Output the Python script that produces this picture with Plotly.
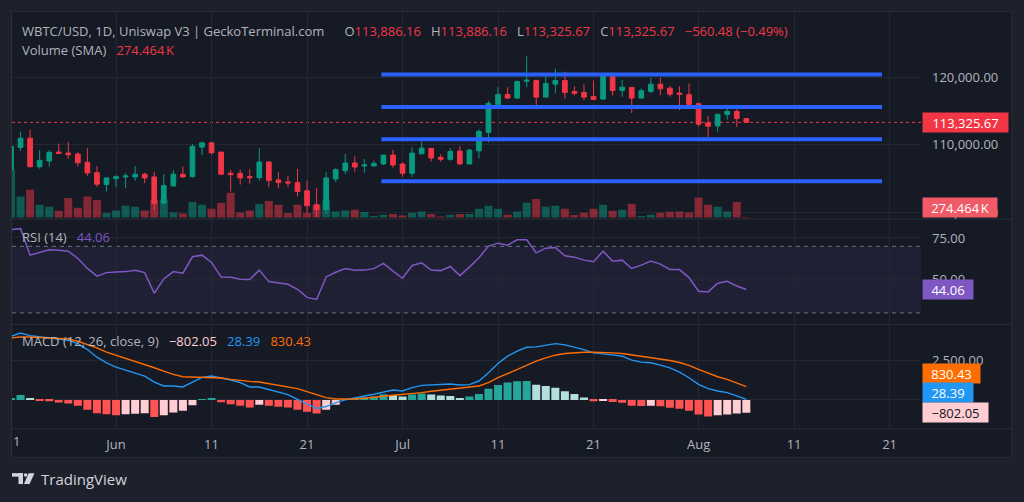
import pandas as pd
import plotly.graph_objects as go

# ---------------- data ----------------
START_DATE = "2025-05-21"
OPEN = [106300, 109620, 110990, 106770, 107608, 108931, 108784, 108637, 107417, 105888,
        104124, 105006, 105256, 105256, 105653, 105256, 101390, 103933, 105653, 105300,
        109666, 110298, 108931, 105800, 105800, 105300, 105153, 107461, 104815, 104521,
        104418, 103198, 101140, 100449, 104962, 106182, 107314, 106873, 106873, 107167,
        108490, 107167, 105800, 108681, 109475, 108152, 107858, 109078, 107167, 109122,
        111827, 115943, 117457, 116913, 119412, 119515, 117060, 118971, 119515, 117898,
        117751, 117163, 116766, 120059, 118045, 118486, 116913, 117898, 118971, 118383,
        117648, 117413, 116090, 113238, 112797, 114473, 114958, 113886.16]
HIGH = [109900, 111970, 112270, 109225, 109225, 110210, 110445, 108918, 109519, 106873,
        105182, 105506, 105800, 106873, 105888, 106035, 105697, 106241, 106770, 110107,
        110445, 110401, 109000, 106285, 106329, 106388, 109519, 107608, 105947, 105403,
        106432, 104712, 103595, 105947, 106535, 108637, 108299, 107902, 107652, 108534,
        109269, 107417, 109622, 110445, 109563, 108637, 109519, 109813, 109372, 112312,
        116472, 118530, 118530, 119515, 123087, 119662, 120353, 121279, 120838, 118677,
        118971, 119515, 120147, 120147, 119618, 118530, 118339, 119912, 119912, 118736,
        118677, 119074, 116237, 114267, 114560, 115840, 115252, 113886.16]
LOW = [106100, 109120, 106700, 106476, 106770, 108637, 107946, 106770, 105447, 103742,
       103095, 103742, 103595, 104712, 104330, 100302, 101140, 103830, 105153, 105153,
       108490, 108534, 105590, 103095, 104124, 104271, 104712, 103742, 103595, 103742,
       102360, 99920, 99300, 99773, 104521, 105697, 106035, 105888, 106829, 107020,
       106623, 105300, 105256, 108637, 107564, 107505, 107652, 107150, 107150, 108005,
       110357, 115502, 116825, 116825, 118530, 115649, 117000, 117604, 116869, 117310,
       116619, 116650, 116722, 117310, 117119, 114708, 116850, 117648, 117354, 117119,
       115149, 115950, 112709, 111136, 111974, 113738, 112650, 113325.67]
CLOSE = [109770, 110990, 106770, 107711, 108887, 108740, 108534, 107358, 105844, 104183,
         105109, 105300, 105403, 105653, 105109, 101287, 103977, 105653, 105256, 109769,
         110298, 108828, 105653, 105594, 105109, 105153, 107461, 104712, 104418, 104374,
         103095, 100993, 100405, 105109, 106329, 107314, 106726, 107020, 107270, 108490,
         107020, 105800, 108784, 109519, 108049, 107858, 109034, 107167, 109225, 111974,
         116134, 117457, 116913, 119368, 119559, 117060, 119074, 119515, 117751, 117604,
         117060, 116722, 120103, 118045, 118530, 116913, 118001, 118971, 118295, 117501,
         117501, 115987, 113047, 112753, 114517, 114958, 113886.15, 113325.67]
VOLUME_K = [1650, 724, 952, 442, 374, 238, 670, 340, 724, 602,
            160, 248, 408, 374, 248, 595, 622, 180, 146, 534,
            442, 306, 503, 850, 180, 248, 469, 568, 442, 160,
            442, 160, 442, 588, 214, 248, 272, 194, 58, 102,
            126, 78, 170, 214, 126, 44, 102, 126, 126, 306,
            408, 306, 102, 214, 510, 636, 374, 408, 306, 92,
            170, 306, 442, 238, 272, 476, 58, 102, 170, 204,
            214, 180, 690, 442, 374, 214, 534, 24]
VOL_SMA_K = 274.464
RSI = [80.0, 80.6, 64.7, 66.1, 67.9, 67.7, 67.1, 62.7, 56.7, 52.1,
       54.2, 54.5, 54.8, 55.6, 54.2, 41.8, 50.4, 54.8, 53.9, 63.7,
       64.7, 60.3, 51.6, 51.4, 50.2, 50.0, 55.7, 48.8, 47.8, 47.2,
       44.2, 39.3, 38.1, 51.6, 54.4, 56.6, 55.6, 55.7, 56.6, 59.7,
       55.1, 50.8, 58.5, 60.1, 55.7, 55.4, 57.9, 52.4, 57.5, 63.1,
       70.1, 71.9, 70.7, 73.9, 73.9, 66.1, 68.9, 69.3, 64.3, 63.5,
       61.7, 60.7, 67.1, 61.1, 61.7, 56.7, 58.7, 61.1, 59.3, 56.1,
       56.0, 51.2, 43.0, 42.6, 47.8, 49.0, 46.2, 44.06]
MACD = [4000, 4206, 4040, 3956, 3894, 3831, 3748, 3540, 3165, 2686,
        2331, 2061, 1873, 1665, 1498, 1123, 873, 873, 811, 1123,
        1415, 1498, 1394, 1248, 1082, 811, 811, 665, 498, 332,
        40, -272, -543, -418, -168, -2, 144, 248, 353, 498,
        623, 561, 769, 915, 936, 957, 998, 936, 957, 1186,
        1707, 2290, 2748, 3060, 3310, 3331, 3435, 3540, 3456, 3310,
        3165, 2956, 2915, 2831, 2748, 2498, 2373, 2331, 2186, 2019,
        1748, 1394, 977, 707, 561, 457, 248, 28.39]
SIGNAL = [3894, 3956, 3956, 3935, 3915, 3873, 3831, 3685, 3477, 3269,
          2998, 2810, 2623, 2435, 2227, 2019, 1811, 1602, 1457, 1436,
          1415, 1415, 1373, 1290, 1207, 1165, 1123, 1019, 936, 832,
          707, 519, 311, 144, 61, 40, 61, 102, 186, 228,
          290, 332, 394, 457, 540, 602, 665, 707, 769, 873,
          1082, 1394, 1650, 1915, 2165, 2435, 2644, 2810, 2915, 2977,
          2998, 2998, 2998, 2956, 2915, 2831, 2748, 2665, 2581, 2477,
          2352, 2165, 1915, 1665, 1456, 1290, 1082, 830.43]
HIST = [104, 312, 62, -62, -83, -167, -229, -375, -625, -833,
        -896, -958, -896, -875, -833, -1083, -958, -792, -687, -333,
        20, 83, -146, -271, -375, -479, -312, -375, -437, -479,
        -625, -750, -854, -625, -312, 20, 104, 167, 208, 354,
        312, 208, 333, 396, 333, 271, 250, 125, 208, 375,
        708, 937, 1100, 1180, 1190, 958, 875, 771, 542, 375,
        146, -83, -42, -125, -187, -375, -380, -370, -396, -500,
        -562, -687, -917, -1042, -958, -917, -854, -802.05]

LEVELS = [120400, 115590, 110840, 104620]
LEVEL_START = "2025-06-28 19:00"
LEVEL_END = "2025-08-20 05:00"

TICK_DATES = ["2025-06-01", "2025-06-11", "2025-06-21", "2025-07-01", "2025-07-11",
              "2025-07-21", "2025-08-01", "2025-08-11", "2025-08-21"]
TICK_TEXT = ["Jun", "11", "21", "Jul", "11", "21", "Aug", "11", "21"]
PRICE_TICKS = [100000, 110000, 120000]
RSI_TICKS = [50, 75]
RSI_LINES = [30, 50, 70]
MACD_TICKS = [2500]

# ---------------- styling ----------------
W, H = 1024, 502
OUTER = "#1e212b"
INNER = "#161a25"
GRID = "#232733"
SEP = "#2a2e39"
TXT = "#b2b5be"
UP = "#089981"
DOWN = "#f23645"
FONT = "Open Sans"


def px(x):
    return x / W


def py(y):
    return 1 - y / H


def fmt(v, spec=",.2f"):
    return format(v, spec).replace("-", "\u2212")


dates = pd.date_range(START_DATE, periods=len(CLOSE), freq="D")
X_RANGE = ["2025-05-21 02:30", "2025-08-24 07:00"]

vol_colors = ["rgba(8,153,129,0.5)" if c >= o else "rgba(242,54,69,0.5)"
              for o, c in zip(OPEN, CLOSE)]
hist_colors = []
for i, v in enumerate(HIST):
    prev = HIST[i - 1] if i > 0 else v
    if v >= 0:
        hist_colors.append("#26a69a" if v >= prev else "#b2dfdb")
    else:
        hist_colors.append("#ff5252" if v <= prev else "#ffcdd2")

fig = go.Figure()
fig.add_trace(go.Bar(x=dates, y=VOLUME_K, marker=dict(color=vol_colors, line=dict(width=0)),
                     xaxis="x", yaxis="y", hoverinfo="skip"))
fig.add_trace(go.Candlestick(x=dates, open=OPEN, high=HIGH, low=LOW, close=CLOSE,
                             xaxis="x", yaxis="y2", whiskerwidth=0,
                             increasing=dict(line=dict(color=UP, width=1), fillcolor=UP),
                             decreasing=dict(line=dict(color=DOWN, width=1), fillcolor=DOWN),
                             hoverinfo="skip"))
fig.add_trace(go.Scatter(x=dates, y=RSI, mode="lines", line=dict(color="#7e57c2", width=1.5),
                         xaxis="x2", yaxis="y3", hoverinfo="skip"))
fig.add_trace(go.Bar(x=dates, y=HIST, marker=dict(color=hist_colors, line=dict(width=0)),
                     xaxis="x3", yaxis="y4", hoverinfo="skip"))
fig.add_trace(go.Scatter(x=dates, y=MACD, mode="lines", line=dict(color="#2196f3", width=1.4),
                         xaxis="x3", yaxis="y4", hoverinfo="skip"))
fig.add_trace(go.Scatter(x=dates, y=SIGNAL, mode="lines", line=dict(color="#ff6d00", width=1.4),
                         xaxis="x3", yaxis="y4", hoverinfo="skip"))

xcommon = dict(domain=[px(12), px(921)], range=X_RANGE, type="date", tickvals=TICK_DATES,
               showgrid=True, gridcolor=GRID, gridwidth=1, zeroline=False, showline=False,
               ticks="", fixedrange=True)
ycommon = dict(side="right", showgrid=True, gridcolor=GRID, zeroline=False, showline=False,
               ticks="", ticklabelstandoff=10, tickfont=dict(family=FONT, size=13, color=TXT),
               fixedrange=True)

fig.update_layout(
    width=W, height=H, margin=dict(l=0, r=0, t=0, b=0),
    paper_bgcolor=OUTER, plot_bgcolor=INNER, showlegend=False, hovermode=False,
    bargap=0.16, boxgap=0.3,
    font=dict(family=FONT, size=13, color=TXT),
    xaxis=dict(**xcommon, anchor="y", showticklabels=False, rangeslider=dict(visible=False)),
    xaxis2=dict(**xcommon, anchor="y3", matches="x", showticklabels=False),
    xaxis3=dict(**xcommon, anchor="y4", matches="x", showticklabels=True, ticktext=TICK_TEXT,
                tickfont=dict(family=FONT, size=13, color=TXT), ticklabelstandoff=7),
    yaxis=dict(domain=[py(219), py(12)], range=[0, 7038], visible=False, anchor="x",
               fixedrange=True),
    yaxis2=dict(**ycommon, overlaying="y", anchor="x", range=[99229, 129658],
                tickvals=PRICE_TICKS, tickformat=",.2f"),
    yaxis3=dict(**ycommon, domain=[py(325), py(221)], anchor="x2", range=[23.9, 86.0],
                tickvals=RSI_TICKS, tickformat=".2f"),
    yaxis4=dict(**{**ycommon, "zeroline": True}, zerolinecolor=GRID, zerolinewidth=1,
                domain=[py(431), py(327)], anchor="x3", range=[-1794, 4706],
                tickvals=MACD_TICKS, tickformat=",.2f"),
)

shapes = []
# chart frame
shapes.append(dict(type="rect", xref="paper", yref="paper", x0=px(11.5), x1=px(1012),
                   y0=py(460), y1=py(11.5), fillcolor=INNER, line=dict(color=SEP, width=1),
                   layer="below"))
for ysep in (220.5, 326.5, 431.5):
    shapes.append(dict(type="line", xref="paper", yref="paper", x0=px(12), x1=px(1012),
                       y0=py(ysep), y1=py(ysep), line=dict(color=SEP, width=1), layer="below"))
# last price dotted line
shapes.append(dict(type="line", xref="x domain", yref="y2", x0=0, x1=1, y0=CLOSE[-1],
                   y1=CLOSE[-1], line=dict(color=DOWN, width=1, dash="dot"), layer="below"))
# horizontal level lines
for lv in LEVELS:
    shapes.append(dict(type="line", xref="x", yref="y2", x0=LEVEL_START, x1=LEVEL_END,
                       y0=lv, y1=lv, line=dict(color="#2962ff", width=4), layer="above"))
# RSI band and levels
shapes.append(dict(type="rect", xref="x2 domain", yref="y3", x0=0, x1=1, y0=RSI_LINES[0],
                   y1=RSI_LINES[-1], fillcolor="rgba(126,87,194,0.1)", line=dict(width=0),
                   layer="below"))
for lv in RSI_LINES:
    shapes.append(dict(type="line", xref="x2 domain", yref="y3", x0=0, x1=1, y0=lv, y1=lv,
                       line=dict(color="rgba(120,123,134,0.9)", width=1, dash="4px,4px"),
                       layer="below"))
# TradingView logo
LOGO = "#d1d4dc"
shapes += [
    dict(type="rect", xref="paper", yref="paper", x0=px(12), x1=px(23), y0=py(479.5),
         y1=py(476), fillcolor=LOGO, line=dict(width=0)),
    dict(type="rect", xref="paper", yref="paper", x0=px(18.5), x1=px(23), y0=py(487),
         y1=py(476), fillcolor=LOGO, line=dict(width=0)),
    dict(type="circle", xref="paper", yref="paper", x0=px(23.8), x1=px(27.4), y0=py(479.6),
         y1=py(476), fillcolor=LOGO, line=dict(width=0)),
    dict(type="path", xref="paper", yref="paper", fillcolor=LOGO, line=dict(width=0),
         path=f"M {px(28.5)},{py(476)} L {px(34.5)},{py(476)} L {px(29.5)},{py(487)} "
              f"L {px(24)},{py(487)} Z"),
]
fig.update_layout(shapes=shapes)

RED = "#f23645"
SP = "\u00a0\u00a0\u00a0"
SP_TITLE = "\u00a0\u00a0\u00a0\u00a0\u00a0\u00a0"
chg = CLOSE[-1] - CLOSE[-2]
pct = chg / CLOSE[-2] * 100


def red(s):
    return f"<span style='color:{RED}'>{s}</span>"


header = ("WBTC/USD, 1D, Uniswap V3 | GeckoTerminal.com" + SP_TITLE +
          "O" + red(fmt(OPEN[-1])) + SP + "H" + red(fmt(HIGH[-1])) + SP +
          "L" + red(fmt(LOW[-1])) + SP + "C" + red(fmt(CLOSE[-1])) + SP +
          red(f"{fmt(chg)} ({fmt(pct)}%)"))
vol_txt = f"{VOL_SMA_K:.3f}\u202fK"

ann = [
    dict(x=px(20), y=py(31), xref="paper", yref="paper", xanchor="left", yanchor="middle",
         text=header, showarrow=False, font=dict(family=FONT, size=13, color=TXT)),
    dict(x=px(20), y=py(50), xref="paper", yref="paper", xanchor="left", yanchor="middle",
         text="Volume (SMA)" + SP + red(vol_txt), showarrow=False,
         font=dict(family=FONT, size=13, color=TXT)),
    dict(x=px(20), y=py(238), xref="paper", yref="paper", xanchor="left", yanchor="middle",
         text="RSI (14)" + SP + f"<span style='color:#7e57c2'>{RSI[-1]:.2f}</span>",
         showarrow=False, font=dict(family=FONT, size=13, color=TXT)),
    dict(x=px(20), y=py(343), xref="paper", yref="paper", xanchor="left", yanchor="middle",
         text="MACD (12, 26, close, 9)" + SP +
              f"<span style='color:#ffcdd2'>{fmt(HIST[-1])}</span>" + SP +
              f"<span style='color:#2196f3'>{fmt(MACD[-1])}</span>" + SP +
              f"<span style='color:#ff6d00'>{fmt(SIGNAL[-1])}</span>",
         showarrow=False, font=dict(family=FONT, size=13, color=TXT)),
    # cut-off first date label
    dict(x=px(11), y=py(444), xref="paper", yref="paper", xanchor="left", yanchor="middle",
         text="1", showarrow=False, font=dict(family=FONT, size=13, color=TXT)),
    dict(x=px(39), y=py(482), xref="paper", yref="paper", xanchor="left", yanchor="middle",
         text="TradingView", showarrow=False, font=dict(family=FONT, size=15, color=LOGO)),
]


def box(yref, yval, text, bg, w, fg="#ffffff", yshift=0):
    return dict(x=px(921.5), xref="paper", xanchor="left", y=yval, yref=yref,
                yanchor="middle", yshift=yshift, text=text, showarrow=False, bgcolor=bg,
                borderpad=3, width=w - 6, height=13, align="center",
                font=dict(family=FONT, size=13, color=fg))


ann += [
    box("y2", CLOSE[-1], fmt(CLOSE[-1]), RED, 85),
    box("y", VOL_SMA_K, vol_txt, "#f05a67", 74, yshift=2),
    box("y3", RSI[-1], f"{RSI[-1]:.2f}", "#7e57c2", 50),
    box("y4", SIGNAL[-1], fmt(SIGNAL[-1]), "#ff6d00", 57, yshift=13),
    box("y4", MACD[-1], fmt(MACD[-1]), "#2196f3", 50, yshift=6.5),
    box("y4", HIST[-1], fmt(HIST[-1]), "#ffcdd2", 65, fg="#131722"),
]
fig.update_layout(annotations=ann)

fig.write_html("out.html")
